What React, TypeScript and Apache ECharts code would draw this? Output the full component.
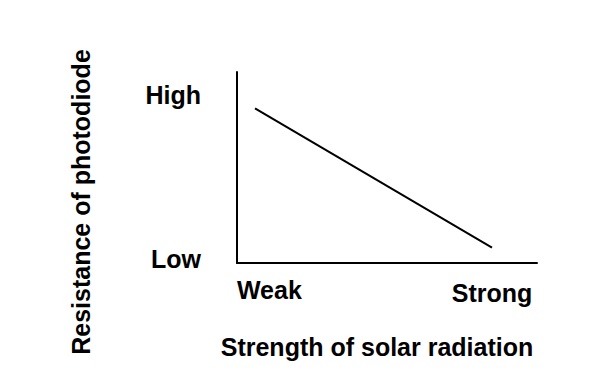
import React, { useEffect, useRef } from "react";
import * as echarts from "echarts";

const xTickValues = [0.108, 0.85];
const xTickLabels = ["Weak", "Strong"];
const yTickValues = [0.02, 0.88];
const yTickLabels = ["Low", "High"];
const lineX = [0.06, 0.85];
const lineY = [0.81, 0.08];
const xTitle = "Strength of solar radiation";
const yTitle = "Resistance of photodiode";

const FONT = "'Liberation Sans', Arial, Helvetica, sans-serif";

function labelFor(values: number[], labels: string[], v: number) {
  let best = 0;
  for (let i = 1; i < values.length; i++) {
    if (Math.abs(values[i] - v) < Math.abs(values[best] - v)) best = i;
  }
  return labels[best];
}

export default function App() {
  const ref = useRef<HTMLDivElement>(null);
  useEffect(() => {
    if (!ref.current) return;
    const chart = echarts.init(ref.current, undefined, { renderer: "svg" });
    const textBase = { color: "#000", fontFamily: FONT, fontSize: 25, fontWeight: "bold" as const };
    chart.setOption({
      animation: false,
      backgroundColor: "#fff",
      grid: { left: 237, top: 72, width: 300, height: 191, containLabel: false },
      xAxis: {
        type: "value",
        min: 0,
        max: 1,
        axisLine: { show: true, lineStyle: { color: "#000", width: 2 } },
        axisTick: { show: false },
        splitLine: { show: false },
        axisLabel: {
          customValues: xTickValues,
          margin: 14,
          ...textBase,
          formatter: (v: number) => {
            const l = labelFor(xTickValues, xTickLabels, v);
            return l === xTickLabels[1] ? `{b|${l}}` : `{a|${l}}`;
          },
          rich: {
            a: { ...textBase, lineHeight: 26 },
            b: { ...textBase, lineHeight: 26, padding: [6, 0, 0, 0] },
          },
        },
      },
      yAxis: {
        type: "value",
        min: 0,
        max: 1,
        axisLine: { show: true, lineStyle: { color: "#000", width: 2 } },
        axisTick: { show: false },
        splitLine: { show: false },
        axisLabel: {
          customValues: yTickValues,
          margin: 36,
          ...textBase,
          formatter: (v: number) => labelFor(yTickValues, yTickLabels, v),
        },
      },
      series: [
        {
          type: "line",
          data: lineX.map((x, i) => [x, lineY[i]]),
          symbol: "none",
          lineStyle: { color: "#000", width: 2 },
        },
      ],
      graphic: [
        {
          type: "text",
          x: 377,
          y: 347,
          style: {
            text: xTitle,
            fill: "#000",
            font: `bold 25px ${FONT}`,
            textAlign: "center",
            textVerticalAlign: "middle",
          },
        },
        {
          type: "text",
          x: 81,
          y: 202,
          rotation: Math.PI / 2,
          style: {
            text: yTitle,
            fill: "#000",
            font: `bold 25px ${FONT}`,
            textAlign: "center",
            textVerticalAlign: "middle",
          },
        },
      ],
    });
    return () => chart.dispose();
  }, []);
  return (
    <div
      ref={ref}
      style={{ position: "fixed", left: 0, top: 0, width: 608, height: 378 }}
    />
  );
}
